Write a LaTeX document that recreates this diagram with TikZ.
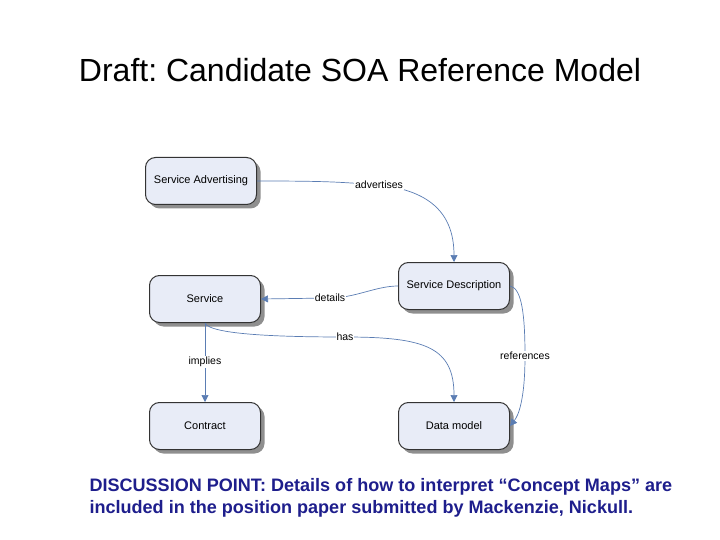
\documentclass[tikz,border=0pt]{standalone}
\usepackage{fontspec}
\setmainfont{Liberation Sans}
\usetikzlibrary{shadows,arrows.meta}
\definecolor{boxfill}{HTML}{E8ECF7}
\definecolor{linec}{HTML}{5B7DB3}
\definecolor{navy}{HTML}{1E1E8C}
\tikzset{
  concept/.style={draw=black!80, line width=1pt, fill=boxfill, rounded corners=10pt,
    minimum width=111pt, minimum height=47pt, font=\fontsize{11}{13}\selectfont,
    drop shadow={shadow xshift=4pt, shadow yshift=-4pt, fill=black!55, opacity=0.8}},
  conn/.style={draw=linec, line width=0.7pt},
  arr/.style={conn, -{Triangle[length=7pt,width=7pt]}},
  lab/.style={fill=white, inner sep=1pt, font=\fontsize{10.5}{12}\selectfont}
}
\frenchspacing
\begin{document}
\begin{tikzpicture}[x=1pt,y=-1pt]
\useasboundingbox (0,0) rectangle (720,540);
\node[font=\fontsize{32}{35}\selectfont] (title) at (360,70) {\frenchspacing Draft: Candidate SOA Reference Model};

\node[concept] (sa) at (201,181) {Service Advertising};
\node[concept] (sd) at (454,286) {Service Description};
\node[concept] (sv) at (205,299) {Service};
\node[concept] (ct) at (205,426) {Contract};
\node[concept] (dm) at (454,426) {Data model};

\coordinate (advp) at (379,185);
\coordinate (detp) at (330,298);
\coordinate (hasp) at (345,337);
\coordinate (refp) at (525,356);
\coordinate (impp) at (205,362);

\draw[conn] (sa.east) .. controls +(70,0) and +(-40,-3) .. (advp);
\draw[arr] (advp) .. controls +(55,6) and +(0,-45) .. (sd.north);
\draw[conn] (sd.west) .. controls +(-22,0) and +(25,0) .. (detp);
\draw[arr] (detp) -- (sv.east);
\draw[conn] (sv.south) .. controls +(5,12) and +(-60,0) .. (hasp);
\draw[arr] (hasp) .. controls +(80,0) and +(0,-55) .. (dm.north);
\draw[arr] (sv.south) -- (ct.north);
\draw[conn] (sd.east) .. controls +(12,2) and +(0,-40) .. (refp);
\draw[arr] (refp) .. controls +(0,45) and +(8,-10) .. (dm.east);

\node[lab] (advl) at (advp) {advertises};
\node[lab] (detl) at (detp) {details};
\node[lab] (hasl) at (hasp) {has};
\node[lab] (refl) at (refp) {references};
\node[lab] (impl) at (impp) {implies};

\node[anchor=north west, align=left, text=navy, font=\bfseries\fontsize{18.05}{22}\selectfont] (disc) at (86,475)
 {\frenchspacing DISCUSSION POINT: Details of how to interpret “Concept Maps” are\\included in the position paper submitted by Mackenzie, Nickull.};
\end{tikzpicture}
\end{document}
